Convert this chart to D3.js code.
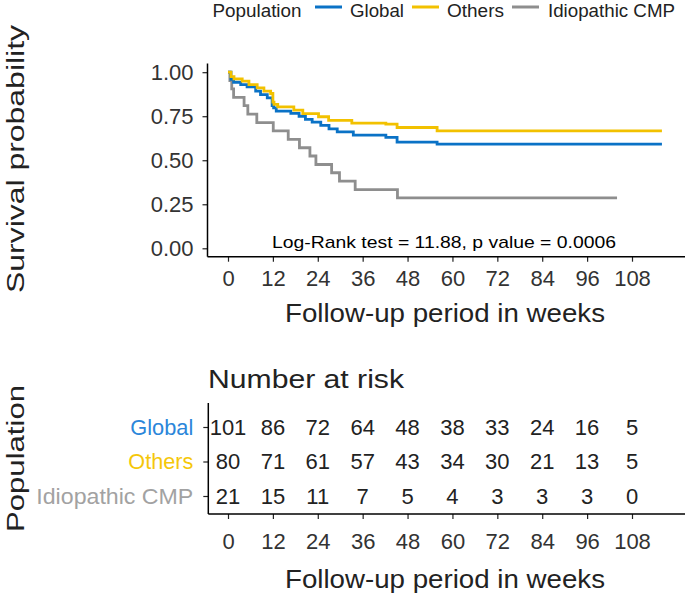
<!DOCTYPE html>
<html><head><meta charset="utf-8">
<script src="https://cdn.jsdelivr.net/npm/d3@7"></script>
<style>
body{margin:0;background:#fff;}
svg{display:block;}
text{font-family:"Liberation Sans",Arial,sans-serif;}
</style></head>
<body>
<svg id="c" width="685" height="596"></svg>
<script>
// ---- data ----
const seriesNames = ["Global", "Others", "Idiopathic CMP"];
const seriesColors = ["#0A72C6", "#F2C100", "#8E8E8E"];
const labelColors = ["#2B86DA", "#F5C70A", "#A2A2A2"];
const labelWidths = [63, 65, 157];

const globalTime = [0, 0.8, 1.5, 3.4, 5.1, 7.4, 8.7, 10.5, 11.8, 12.2, 12.9, 16.8, 19, 20.7, 22.5, 24.8, 27, 29.2, 33.5, 42.2, 45.2, 55.9, 116];
const globalSurv = [1.0, 0.96, 0.943, 0.93, 0.917, 0.892, 0.873, 0.854, 0.81, 0.797, 0.779, 0.766, 0.75, 0.732, 0.716, 0.698, 0.678, 0.661, 0.643, 0.63, 0.603, 0.592, 0.592];

const othersTime = [0, 0.8, 1.6, 3.8, 5.6, 7.8, 9.6, 11.4, 12.0, 12.3, 13.3, 17.6, 20, 24.2, 26.9, 33.1, 42.2, 45.2, 55.9, 116];
const othersSurv = [1.0, 0.975, 0.962, 0.949, 0.93, 0.911, 0.892, 0.879, 0.83, 0.817, 0.803, 0.785, 0.765, 0.747, 0.726, 0.711, 0.705, 0.686, 0.667, 0.667];

const idioTime = [0, 0.5, 1.0, 1.5, 4.3, 5.3, 7.7, 12.1, 16.1, 19.1, 21.9, 23.5, 27.7, 29.8, 34, 45.3, 104];
const idioSurv = [1.0, 0.952, 0.905, 0.857, 0.81, 0.762, 0.714, 0.667, 0.619, 0.571, 0.524, 0.476, 0.429, 0.381, 0.333, 0.286, 0.286];

const xTicks = [0, 12, 24, 36, 48, 60, 72, 84, 96, 108];
const yTicks = [0, 0.25, 0.5, 0.75, 1.0];

const riskGlobal = [101, 86, 72, 64, 48, 38, 33, 24, 16, 5];
const riskOthers = [80, 71, 61, 57, 43, 34, 30, 21, 13, 5];
const riskIdio = [21, 15, 11, 7, 5, 4, 3, 3, 3, 0];

const logRankText = "Log-Rank test = 11.88, p value = 0.0006";
const xTitle = "Follow-up period in weeks";

// ---- drawing ----
const svg = d3.select("#c");
const x = d3.scaleLinear().domain([0, 108]).range([228, 632]);
const y = d3.scaleLinear().domain([0, 1]).range([248.3, 72.2]);

const axisLeftX = 207.5, axisBottomY = 256.7, axisRight = 685, axisTop = 63.5;

// Legend
const lg = svg.append("g");
lg.append("text").attr("x", 212.5).attr("y", 16.5).attr("font-size", 17.5).attr("fill", "#222")
  .attr("textLength", 89).attr("lengthAdjust", "spacingAndGlyphs").text("Population");
const legPos = [[315, 350, 54], [412, 447, 57], [512, 548, 127]];
seriesNames.forEach((n, i) => {
  lg.append("line").attr("x1", legPos[i][0]).attr("x2", legPos[i][0] + 27)
    .attr("y1", 7).attr("y2", 7).attr("stroke", seriesColors[i]).attr("stroke-width", 3);
  lg.append("text").attr("x", legPos[i][1]).attr("y", 16.5).attr("font-size", 17.5).attr("fill", "#222")
    .attr("textLength", legPos[i][2]).attr("lengthAdjust", "spacingAndGlyphs").text(n);
});

// Y axis
const yAxisG = svg.append("g").attr("transform", `translate(${axisLeftX},0)`)
  .call(d3.axisLeft(y).tickValues(yTicks).tickFormat(d3.format(".2f")).tickSize(5).tickSizeOuter(0));
yAxisG.select(".domain").remove();
yAxisG.append("line").attr("x1", 0).attr("x2", 0).attr("y1", axisTop).attr("y2", axisBottomY)
  .attr("stroke", "#000").attr("stroke-width", 1.5);
yAxisG.selectAll(".tick line").attr("stroke", "#222").attr("stroke-width", 1.2);
yAxisG.selectAll(".tick text").attr("font-size", 22).attr("fill", "#333").attr("x", -14)
  .attr("font-family", "Liberation Sans, Arial, sans-serif");

// X axis
const xAxisG = svg.append("g").attr("transform", `translate(0,${axisBottomY})`)
  .call(d3.axisBottom(x).tickValues(xTicks).tickSize(5).tickSizeOuter(0));
xAxisG.select(".domain").remove();
xAxisG.append("line").attr("x1", axisLeftX).attr("x2", axisRight).attr("y1", 0).attr("y2", 0)
  .attr("stroke", "#000").attr("stroke-width", 1.5);
xAxisG.selectAll(".tick line").attr("stroke", "#222").attr("stroke-width", 1.2);
xAxisG.selectAll(".tick text").attr("font-size", 22).attr("fill", "#333").attr("y", 14).attr("dy", "0.71em")
  .attr("font-family", "Liberation Sans, Arial, sans-serif");

// Curves
const line = d3.line().x(d => x(d[0])).y(d => y(d[1])).curve(d3.curveStepAfter);
const curves = [
  d3.zip(idioTime, idioSurv),
  d3.zip(globalTime, globalSurv),
  d3.zip(othersTime, othersSurv)
];
const curveColors = [seriesColors[2], seriesColors[0], seriesColors[1]];
curves.forEach((c, i) => {
  svg.append("path").attr("d", line(c)).attr("fill", "none")
    .attr("stroke", curveColors[i]).attr("stroke-width", 2.8);
});

// Log-rank annotation
svg.append("text").attr("x", 444).attr("y", 247.5).attr("text-anchor", "middle")
  .attr("font-family", "Open Sans, sans-serif").attr("font-size", 17).attr("fill", "#000")
  .attr("textLength", 344).attr("lengthAdjust", "spacingAndGlyphs").text(logRankText);

// Axis titles
svg.append("text").attr("transform", "translate(24,159) rotate(-90)").attr("text-anchor", "middle")
  .attr("font-size", 23).attr("fill", "#222").attr("textLength", 268).attr("lengthAdjust", "spacingAndGlyphs")
  .text("Survival probability");
svg.append("text").attr("x", 445).attr("y", 322).attr("text-anchor", "middle")
  .attr("font-size", 26).attr("fill", "#222").attr("textLength", 320).attr("lengthAdjust", "spacingAndGlyphs")
  .text(xTitle);

// ---- Risk table ----
svg.append("text").attr("x", 208).attr("y", 388).attr("font-size", 26).attr("fill", "#222")
  .attr("textLength", 196).attr("lengthAdjust", "spacingAndGlyphs").text("Number at risk");

const rowY = d3.scalePoint().domain(seriesNames).range([427, 496]);
const riskRows = [riskGlobal, riskOthers, riskIdio];
const tblLeft = 208.3, tblBottom = 514, tblTop = 403;

const tYAxis = svg.append("g").attr("transform", `translate(${tblLeft},0)`)
  .call(d3.axisLeft(rowY).tickSize(5).tickSizeOuter(0));
tYAxis.select(".domain").remove();
tYAxis.append("line").attr("x1", 0).attr("x2", 0).attr("y1", tblTop).attr("y2", tblBottom)
  .attr("stroke", "#000").attr("stroke-width", 1.5);
tYAxis.selectAll(".tick line").attr("stroke", "#222").attr("stroke-width", 1.2);
tYAxis.selectAll(".tick text").attr("font-size", 22).attr("x", -15)
  .attr("font-family", "Liberation Sans, Arial, sans-serif")
  .attr("textLength", (d, i) => labelWidths[i]).attr("lengthAdjust", "spacingAndGlyphs")
  .attr("fill", (d, i) => labelColors[i]);

riskRows.forEach((row, i) => {
  svg.append("g").selectAll("text").data(row).join("text")
    .attr("x", (d, j) => x(xTicks[j])).attr("y", rowY(seriesNames[i])).attr("dy", "0.36em")
    .attr("text-anchor", "middle").attr("font-size", 22).attr("fill", "#222").text(d => d);
});

const tXAxis = svg.append("g").attr("transform", `translate(0,${tblBottom})`)
  .call(d3.axisBottom(x).tickValues(xTicks).tickSize(5).tickSizeOuter(0));
tXAxis.select(".domain").remove();
tXAxis.append("line").attr("x1", tblLeft).attr("x2", axisRight).attr("y1", 0).attr("y2", 0)
  .attr("stroke", "#000").attr("stroke-width", 1.5);
tXAxis.selectAll(".tick line").attr("stroke", "#222").attr("stroke-width", 1.2);
tXAxis.selectAll(".tick text").attr("font-size", 22).attr("fill", "#333").attr("y", 19).attr("dy", "0.71em")
  .attr("font-family", "Liberation Sans, Arial, sans-serif");

svg.append("text").attr("transform", "translate(24,458.5) rotate(-90)").attr("text-anchor", "middle")
  .attr("font-size", 23).attr("fill", "#222").attr("textLength", 147).attr("lengthAdjust", "spacingAndGlyphs")
  .text("Population");
svg.append("text").attr("x", 445).attr("y", 588).attr("text-anchor", "middle")
  .attr("font-size", 26).attr("fill", "#222").attr("textLength", 320).attr("lengthAdjust", "spacingAndGlyphs")
  .text(xTitle);
</script>
</body></html>
